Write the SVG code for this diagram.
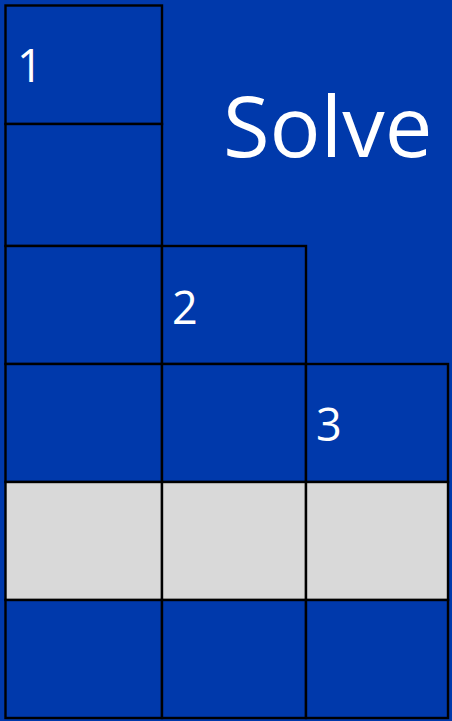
<svg xmlns="http://www.w3.org/2000/svg" width="452" height="721" viewBox="0 0 452 721">
<style>
.c{fill:#0039AB;stroke:#000;stroke-width:2.4}
.g{fill:#D9D9D9;stroke:#000;stroke-width:2.4}
.t{font-family:"Open Sans","Noto Sans",sans-serif;fill:#fff}
.n{font-size:45px}
</style>
<rect width="452" height="721" fill="#0039AB"/>
<text class="t" x="223" y="157" font-size="85">Solve</text>
<g id="r0c0"><rect class="c" x="5.5" y="5.5" width="156.5" height="118.5"/><text class="t n" x="17" y="82">1</text></g>
<g id="r1c0"><rect class="c" x="5.5" y="124" width="156.5" height="122"/></g>
<g id="r2c0"><rect class="c" x="5.5" y="246" width="156.5" height="118"/></g>
<g id="r2c1"><rect class="c" x="162" y="246" width="144" height="118"/><text class="t n" x="172" y="324">2</text></g>
<g id="r3c0"><rect class="c" x="5.5" y="364" width="156.5" height="118"/></g>
<g id="r3c1"><rect class="c" x="162" y="364" width="144" height="118"/></g>
<g id="r3c2"><rect class="c" x="306" y="364" width="142" height="118"/><text class="t n" x="316" y="441">3</text></g>
<g id="r4c0"><rect class="g" x="5.5" y="482" width="156.5" height="118"/></g>
<g id="r4c1"><rect class="g" x="162" y="482" width="144" height="118"/></g>
<g id="r4c2"><rect class="g" x="306" y="482" width="142" height="118"/></g>
<g id="r5c0"><rect class="c" x="5.5" y="600" width="156.5" height="118"/></g>
<g id="r5c1"><rect class="c" x="162" y="600" width="144" height="118"/></g>
<g id="r5c2"><rect class="c" x="306" y="600" width="142" height="118"/></g>
<g id="connectors"></g>
</svg>
